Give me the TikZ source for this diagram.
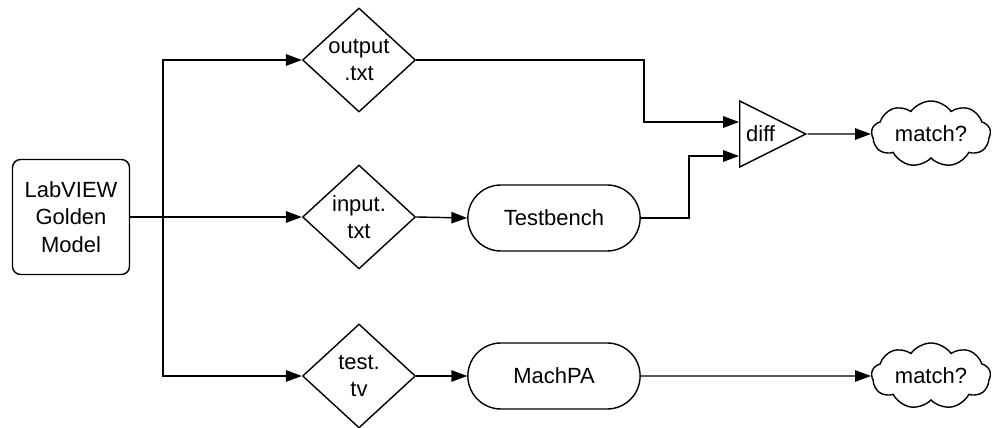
\documentclass[tikz,border=0pt]{standalone}
\usepackage{fontspec}
\setmainfont{Liberation Sans}
\usetikzlibrary{arrows.meta,shapes.geometric,shapes.misc,shapes.symbols,calc}

\begin{document}
\begin{tikzpicture}[x=0.02cm, y=-0.02cm]

    % Define styles
    \tikzset{
        every node/.style={font=\fontsize{12.5}{15.5}\selectfont, align=center, line width=0.8pt},
        model box/.style={draw, rounded corners=0.16cm, minimum width=2.34cm, minimum height=2.3cm, inner sep=0pt},
        file diamond/.style={draw, diamond, minimum width=2.26cm, minimum height=2.08cm, inner sep=0pt},
        run pill/.style={draw, rounded rectangle, minimum width=3.68cm, minimum height=1.32cm},
        diff tri/.style={draw, isosceles triangle, isosceles triangle stretches, minimum width=1.32cm, minimum height=1.32cm, inner sep=0pt, anchor=west},
        result cloud/.style={draw, cloud, cloud puffs=9, cloud puff arc=110, aspect=2, minimum width=2.38cm, minimum height=1.22cm, inner sep=0pt},
        flow/.style={-{Triangle[length=9pt, width=6.5pt]}, line width=0.8pt}
    }

    % Fix the page to the reference size
    \useasboundingbox (0,0) rectangle (992,428);

    % Source model
    \node[model box] (golden) at (71,217) {LabVIEW\\Golden\\Model};

    % Files written by the model
    \node[file diamond] (output) at (359,60) {output\\.txt};
    \node[file diamond] (input) at (359,217) {input.\\txt};
    \node[file diamond] (testtv) at (359,376) {test.\\tv};

    % Consumers of the files
    \node[run pill] (testbench) at (554,218) {Testbench};
    \node[run pill] (machpa) at (554,376) {MachPA};

    % Comparison and results
    \node[diff tri] (diff) at (739,134) {diff};
    \node[result cloud] (match1) at (931,134) {match?};
    \node[result cloud] (match2) at (931,376) {match?};

    % Branch point and bends
    \coordinate (split) at (163,217);
    \coordinate (bend1) at (644,60);
    \coordinate (bend2) at (689,218);

    % Model to files
    \draw[flow] (golden.east) -- (input.west);
    \draw[flow] (split) |- (output.west);
    \draw[flow] (split) |- (testtv.west);

    % Files to consumers
    \draw[flow] (input.east) -- (testbench.west);
    \draw[flow] (testtv.east) -- (machpa.west);

    % Into the diff
    \draw[flow] (output.east) -- (bend1) |- ($(diff.west)+(0,-12)$);
    \draw[flow] (testbench.east) -- (bend2) |- ($(diff.west)+(0,22)$);

    % Results
    \draw[flow] (diff.apex) -- (match1.west);
    \draw[flow] (machpa.east) -- (match2.west);

\end{tikzpicture}
\end{document}
